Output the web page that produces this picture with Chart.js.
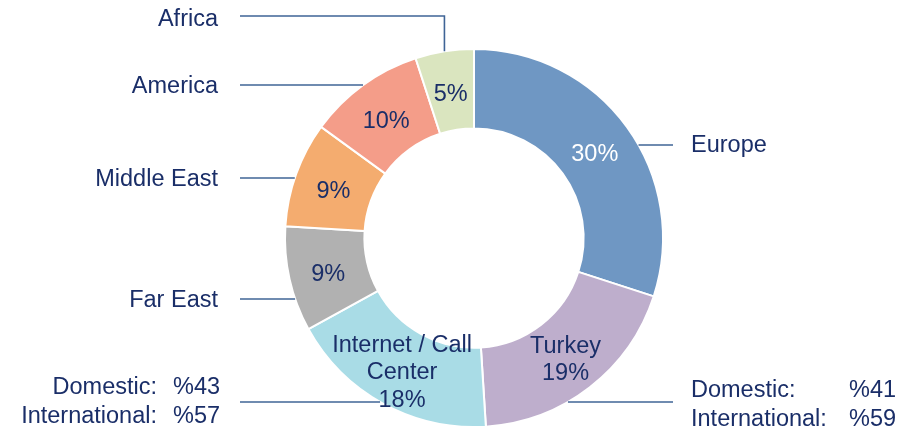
<!DOCTYPE html>
<html>
<head>
<meta charset="utf-8">
<script src="https://cdn.jsdelivr.net/npm/chart.js@4.4.0/dist/chart.umd.min.js"></script>
<style>
  body { margin: 0; background: #fff; }
  #wrap { width: 910px; height: 430px; }
</style>
</head>
<body>
<div id="wrap"><canvas id="revenue" width="910" height="430"></canvas></div>
<script>
// revenue share by region
const regions = ['Europe', 'Turkey', 'Internet / Call Center', 'Far East', 'Middle East', 'America', 'Africa'];
const shares = [30, 19, 18, 9, 9, 10, 5];
const sliceColors = ['#6F97C3', '#BEAECC', '#A9DCE6', '#B1B1B1', '#F4AC6F', '#F49D89', '#DAE5BF'];
// extra lines printed inside a slice above the percentage
const innerNames = [[], ['Turkey'], ['Internet / Call', 'Center'], [], [], [], []];
const splitNames = ['Domestic:', 'International:'];
const turkeySplit = [41, 59];
const internetSplit = [43, 57];

const navy = '#1A2E68';
const leaderColor = '#3F6496';
const font = '23.5px "Liberation Sans", Arial, sans-serif';

// callouts: where each outside label sits
const callouts = [
  { i: 0, side: 'right', y: 145, rows: [{ dy: -1, cols: [['Europe', 691, 'left']] }] },
  { i: 1, side: 'right', y: 402, rows: [
      { dy: -13, cols: [[splitNames[0], 691, 'left'], ['%' + turkeySplit[0], 849, 'left']] },
      { dy: 16, cols: [[splitNames[1], 691, 'left'], ['%' + turkeySplit[1], 849, 'left']] }] },
  { i: 2, side: 'left', y: 402, rows: [
      { dy: -16, cols: [[splitNames[0], 157, 'right'], ['%' + internetSplit[0], 173, 'left']] },
      { dy: 13, cols: [[splitNames[1], 157, 'right'], ['%' + internetSplit[1], 173, 'left']] }] },
  { i: 3, side: 'left', y: 299, rows: [{ dy: 0, cols: [[regions[3], 218, 'right']] }] },
  { i: 4, side: 'left', y: 178, rows: [{ dy: 0, cols: [[regions[4], 218, 'right']] }] },
  { i: 5, side: 'left', y: 85, rows: [{ dy: 0, cols: [[regions[5], 218, 'right']] }] },
  { i: 6, side: 'left', y: 16, elbow: true, rows: [{ dy: 2, cols: [[regions[6], 218, 'right']] }] }
];
const leftStart = 240, rightEnd = 673;

const labelPlugin = {
  id: 'labels',
  afterDatasetsDraw(chart) {
    const ctx = chart.ctx;
    const arcs = chart.getDatasetMeta(0).data;
    ctx.save();
    ctx.font = font;
    ctx.textBaseline = 'alphabetic';
    const capShift = 8.4;

    // inside labels
    arcs.forEach((arc, i) => {
      const p = arc.getCenterPoint();
      const lines = innerNames[i].concat([shares[i] + '%']);
      const lh = 27.5;
      ctx.fillStyle = i === 0 ? '#FFFFFF' : navy;
      ctx.textAlign = 'center';
      lines.forEach((t, k) => {
        const y = p.y + 2 + (k - (lines.length - 1) / 2) * lh;
        ctx.fillText(t, p.x, y + capShift);
      });
    });

    // leader lines and outside labels
    ctx.strokeStyle = leaderColor;
    ctx.lineWidth = 1.6;
    callouts.forEach(c => {
      const arc = arcs[c.i];
      const cx = arc.x, cy = arc.y, r = arc.outerRadius;
      ctx.beginPath();
      if (c.elbow) {
        const mid = (arc.startAngle + arc.endAngle) / 2;
        const ex = cx + r * Math.cos(mid);
        const ey = cy - Math.sqrt(r * r - (ex - cx) * (ex - cx));
        ctx.moveTo(leftStart, c.y);
        ctx.lineTo(ex, c.y);
        ctx.lineTo(ex, ey);
      } else {
        const dx = Math.sqrt(Math.max(r * r - (c.y - cy) * (c.y - cy), 0));
        if (c.side === 'left') {
          ctx.moveTo(leftStart, c.y);
          ctx.lineTo(cx - dx, c.y);
        } else {
          ctx.moveTo(cx + dx, c.y);
          ctx.lineTo(rightEnd, c.y);
        }
      }
      ctx.stroke();

      ctx.fillStyle = navy;
      c.rows.forEach(row => {
        row.cols.forEach(([t, x, align]) => {
          ctx.textAlign = align;
          ctx.fillText(t, x, c.y + row.dy + capShift);
        });
      });
    });
    ctx.restore();
  }
};

new Chart(document.getElementById('revenue'), {
  type: 'doughnut',
  data: {
    labels: regions,
    datasets: [{
      data: shares,
      backgroundColor: sliceColors,
      borderColor: '#FFFFFF',
      borderWidth: 2
    }]
  },
  options: {
    responsive: false,
    animation: false,
    cutout: '58%',
    layout: { padding: { top: 48, bottom: 2, left: 284, right: 246 } },
    plugins: {
      legend: { display: false },
      tooltip: { enabled: false }
    }
  },
  plugins: [labelPlugin]
});
</script>
</body>
</html>
